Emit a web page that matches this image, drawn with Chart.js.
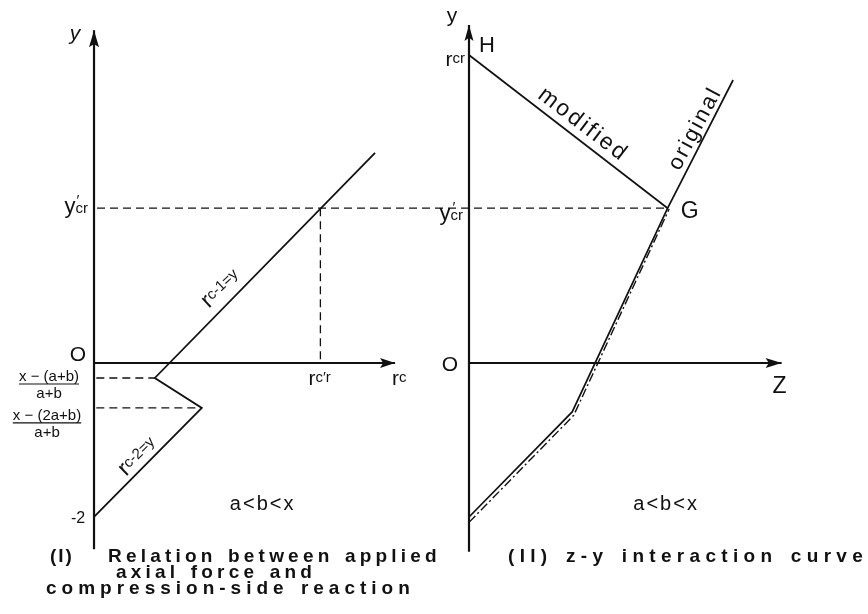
<!DOCTYPE html>
<html>
<head>
<meta charset="utf-8">
<script src="https://cdn.jsdelivr.net/npm/chart.js@4.4.1/dist/chart.umd.min.js"></script>
<style>
    html, body { margin: 0; padding: 0; background: #fff; }
    #wrap { position: relative; width: 868px; height: 614px; overflow: hidden; }
    #chart { position: absolute; left: 0; top: 0; }
    .cap {
        position: absolute;
        font-family: 'Liberation Sans', Arial, sans-serif;
        font-weight: bold;
        font-size: 19px;
        line-height: 19px;
        color: #111;
        white-space: nowrap;
    }
</style>
</head>
<body>
<div id="wrap">
    <canvas id="chart" width="868" height="614"></canvas>
    <div class="cap" style="left:50px; top:546px; letter-spacing:2px;">(I)</div>
    <div class="cap" style="left:108px; top:546px; letter-spacing:4.2px; word-spacing:2px;">Relation between applied</div>
    <div class="cap" style="left:116px; top:562px; letter-spacing:4.2px; word-spacing:2px;">axial force and</div>
    <div class="cap" style="left:46px; top:578px; letter-spacing:5px; word-spacing:2px;">compression-side reaction</div>
    <div class="cap" style="left:508px; top:546px; letter-spacing:5.3px; word-spacing:3px;">(II) z-y interaction curve</div>
</div>
<script>
// Panel I: axial force y against compression-side reaction r_c
const leftAxisY = [-2.42, 4.32];
const leftAxisX = [0, 3.91];
const rcPath = [0, 1.40, 0.79, 3.65];
const yPath = [-2.0, -0.584, -0.195, 2.73];
const yCr = 2.01;
const rcCr = 2.94;
const yBreak1 = -0.195;   // x-(a+b) / (a+b)
const rcBreak1 = 0.79;
const yBreak2 = -0.584;   // x-(2a+b) / (a+b)
const rcBreak2 = 1.40;

// Panel II: z-y interaction curve
const rightAxisY = [-2.45, 4.39];
const rightAxisZ = [0, 4.06];
const zModified = [0, 2.58];
const yModified = [4.0, 2.01];
const zOriginal = [0, 1.34, 2.58, 3.43];
const yOriginal = [-2.0, -0.636, 2.01, 3.675];
const zChain = [0, 1.36, 2.6];
const yChain = [-2.07, -0.68, 2.0];

const INK = '#111';
const FONT = "'Liberation Sans', Arial, sans-serif";

function pts(xs, ys) {
    return xs.map((x, i) => ({ x: x, y: ys[i] }));
}

function line(data, axis, width, dash) {
    return {
        data: data,
        xAxisID: axis,
        showLine: true,
        borderColor: INK,
        borderWidth: width,
        borderDash: dash || [],
        pointRadius: 0,
        fill: false,
        tension: 0
    };
}

const datasets = [
    // axes
    line(pts([0, 0], leftAxisY), 'xL', 2.2),
    line(pts(leftAxisX, [0, 0]), 'xL', 2.2),
    line(pts([0, 0], rightAxisY), 'xR', 2.2),
    line(pts(rightAxisZ, [0, 0]), 'xR', 2.2),
    // guides
    line(pts([0.03, rcBreak1], [yBreak1, yBreak1]), 'xL', 1.3, [8, 5]),
    line(pts([0.03, rcBreak2], [yBreak2, yBreak2]), 'xL', 1.3, [8, 5]),
    line(pts([rcCr, rcCr], [yCr, 0]), 'xL', 1.3, [8, 5]),
    // curves
    line(pts(rcPath, yPath), 'xL', 1.8),
    line(pts(zModified, yModified), 'xR', 1.7),
    line(pts(zOriginal, yOriginal), 'xR', 1.7),
    line(pts(zChain, yChain), 'xR', 1.4, [9, 3, 2, 3])
];

// text pieces: [text, size px, baseline shift, options]
const labels = [
    { ax: 'xL', x: 0, y: leftAxisY[1], dx: -19, dy: 10, align: 'center', parts: [['y', 21, 0, { italic: true }]] },
    { ax: 'xL', x: 0, y: 0, dx: -16, dy: -2, align: 'center', parts: [['O', 21, 0]] },
    { ax: 'xL', x: 0, y: yCr, dx: -6, dy: 5, align: 'right', parts: [['y', 22, 0], ['′', 15, -8, { noAdvance: true, shift: 1 }], ['cr', 15, 0]] },
    { ax: 'xL', x: leftAxisX[1], y: 0, dx: -3, dy: 22, align: 'left', parts: [['r', 21, 0], ['c', 15, -3]] },
    { ax: 'xL', x: rcCr, y: 0, dx: -12, dy: 22, align: 'left', parts: [['r', 21, 0], ['c′r', 15, -3]] },
    { ax: 'xL', x: 0, y: -2, dx: -16, dy: 6, align: 'center', parts: [['-2', 16, 0]] },
    { ax: 'xL', x: 2.19, y: -1.805, dx: 0, dy: 8, align: 'center', spacing: 2, parts: [['a<b<x', 20, 0]] },
    { ax: 'xL', x: 1.65, y: 0.96, dx: 0, dy: 0, align: 'center', rot: -43, parts: [['r', 23, 6], ['c-1=y', 15, 2]] },
    { ax: 'xL', x: 0.57, y: -1.22, dx: 0, dy: 0, align: 'center', rot: -44, parts: [['r', 23, 6], ['c-2=y', 15, 2]] },

    { ax: 'xR', x: 0, y: rightAxisY[1], dx: -17, dy: -3, align: 'center', parts: [['y', 21, 0]] },
    { ax: 'xR', x: 0, y: 0, dx: -19, dy: 8, align: 'center', parts: [['O', 21, 0]] },
    { ax: 'xR', x: 0, y: yModified[0], dx: 18, dy: -3, align: 'center', parts: [['H', 22, 0]] },
    { ax: 'xR', x: 0, y: yModified[0], dx: -4, dy: 11, align: 'right', parts: [['r', 21, 0], ['cr', 15, -3]] },
    { ax: 'xR', x: 0, y: yCr, dx: -6, dy: 12, align: 'right', parts: [['y', 22, 0], ['′', 15, -8, { noAdvance: true, shift: 2 }], ['cr', 15, 0]] },
    { ax: 'xR', x: zModified[1], y: yModified[1], dx: 22, dy: 10, align: 'center', parts: [['G', 23, 0]] },
    { ax: 'xR', x: rightAxisZ[1], y: 0, dx: -2, dy: 30, align: 'center', parts: [['Z', 23, 0]] },
    { ax: 'xR', x: 2.56, y: -1.805, dx: 0, dy: 8, align: 'center', spacing: 2, parts: [['a<b<x', 20, 0]] },
    { ax: 'xR', x: 1.43, y: 3.12, dx: 0, dy: 7, align: 'center', rot: 37.5, spacing: 2.5, parts: [['modified', 23, 0]] },
    { ax: 'xR', x: 2.93, y: 3.05, dx: 0, dy: 0, align: 'center', rot: -62, spacing: 2.5, parts: [['original', 22, 7]] }
];

// stacked fractions at the two break levels of panel I
const fractions = [
    { y: yBreak1, dx: -45, top: 'x − (a+b)', bottom: 'a+b', num: 3, bar: 6, den: 20 },
    { y: yBreak2, dx: -47, top: 'x − (2a+b)', bottom: 'a+b', num: 12, bar: 15, den: 29 }
];

function fontOf(p) {
    const o = p[3] || {};
    return (o.italic ? 'italic ' : '') + p[1] + 'px ' + FONT;
}

function drawParts(ctx, lab, px, py) {
    ctx.save();
    ctx.translate(px, py);
    if (lab.rot) ctx.rotate(lab.rot * Math.PI / 180);
    ctx.fillStyle = INK;
    ctx.textAlign = 'left';
    ctx.textBaseline = 'alphabetic';
    if ('letterSpacing' in ctx) ctx.letterSpacing = (lab.spacing || 0) + 'px';
    const widths = lab.parts.map(p => {
        ctx.font = fontOf(p);
        return (p[3] && p[3].noAdvance) ? 0 : ctx.measureText(p[0]).width;
    });
    const total = widths.reduce((a, b) => a + b, 0);
    let cx = lab.align === 'center' ? -total / 2 : lab.align === 'right' ? -total : 0;
    lab.parts.forEach((p, i) => {
        ctx.font = fontOf(p);
        const shift = (p[3] && p[3].shift) || 0;
        ctx.fillText(p[0], cx + shift, p[2]);
        cx += widths[i];
    });
    ctx.restore();
}

function arrow(ctx, x, y, dir, len, half) {
    ctx.save();
    ctx.translate(x, y);
    ctx.rotate(dir);
    ctx.beginPath();
    ctx.moveTo(0, 0);
    ctx.lineTo(-len, -half);
    ctx.lineTo(-len * 0.8, 0);
    ctx.lineTo(-len, half);
    ctx.closePath();
    ctx.fillStyle = INK;
    ctx.fill();
    ctx.restore();
}

const annotate = {
    id: 'annotate',
    afterDatasetsDraw(chart) {
        const ctx = chart.ctx;
        const sy = chart.scales.y;
        const sc = { xL: chart.scales.xL, xR: chart.scales.xR };

        // y'cr guide runs across both panels up to point G
        ctx.save();
        ctx.strokeStyle = INK;
        ctx.lineWidth = 1.3;
        ctx.setLineDash([8, 5]);
        ctx.beginPath();
        ctx.moveTo(sc.xL.getPixelForValue(0) + 3, sy.getPixelForValue(yCr));
        ctx.lineTo(sc.xR.getPixelForValue(zModified[1]), sy.getPixelForValue(yCr));
        ctx.stroke();
        ctx.restore();

        // arrow heads
        arrow(ctx, sc.xL.getPixelForValue(0), sy.getPixelForValue(leftAxisY[1]), -Math.PI / 2, 17, 5);
        arrow(ctx, sc.xL.getPixelForValue(leftAxisX[1]), sy.getPixelForValue(0), 0, 15, 5);
        arrow(ctx, sc.xR.getPixelForValue(0), sy.getPixelForValue(rightAxisY[1]), -Math.PI / 2, 16, 4.5);
        arrow(ctx, sc.xR.getPixelForValue(rightAxisZ[1]), sy.getPixelForValue(0), 0, 16, 5);

        labels.forEach(l => {
            drawParts(ctx, l, sc[l.ax].getPixelForValue(l.x) + l.dx, sy.getPixelForValue(l.y) + l.dy);
        });

        fractions.forEach(f => {
            const cx = sc.xL.getPixelForValue(0) + f.dx;
            const y0 = sy.getPixelForValue(f.y);
            ctx.save();
            ctx.fillStyle = INK;
            ctx.strokeStyle = INK;
            ctx.font = '15px ' + FONT;
            ctx.textAlign = 'center';
            ctx.textBaseline = 'alphabetic';
            ctx.fillText(f.top, cx, y0 + f.num);
            ctx.fillText(f.bottom, cx, y0 + f.den);
            const w = ctx.measureText(f.top).width;
            ctx.lineWidth = 1.2;
            ctx.beginPath();
            ctx.moveTo(cx - w / 2, y0 + f.bar);
            ctx.lineTo(cx + w / 2, y0 + f.bar);
            ctx.stroke();
            ctx.restore();
        });
    }
};

new Chart(document.getElementById('chart'), {
    type: 'scatter',
    data: { datasets: datasets },
    options: {
        responsive: false,
        animation: false,
        devicePixelRatio: 1,
        layout: { padding: 0 },
        scales: {
            xL: { type: 'linear', display: false, min: -1.221, max: 10.052 },
            xR: { type: 'linear', display: false, min: -6.091, max: 5.182 },
            y: { type: 'linear', display: false, min: -3.260, max: 4.714 }
        },
        plugins: {
            legend: { display: false },
            tooltip: { enabled: false }
        }
    },
    plugins: [annotate]
});
</script>
</body>
</html>
